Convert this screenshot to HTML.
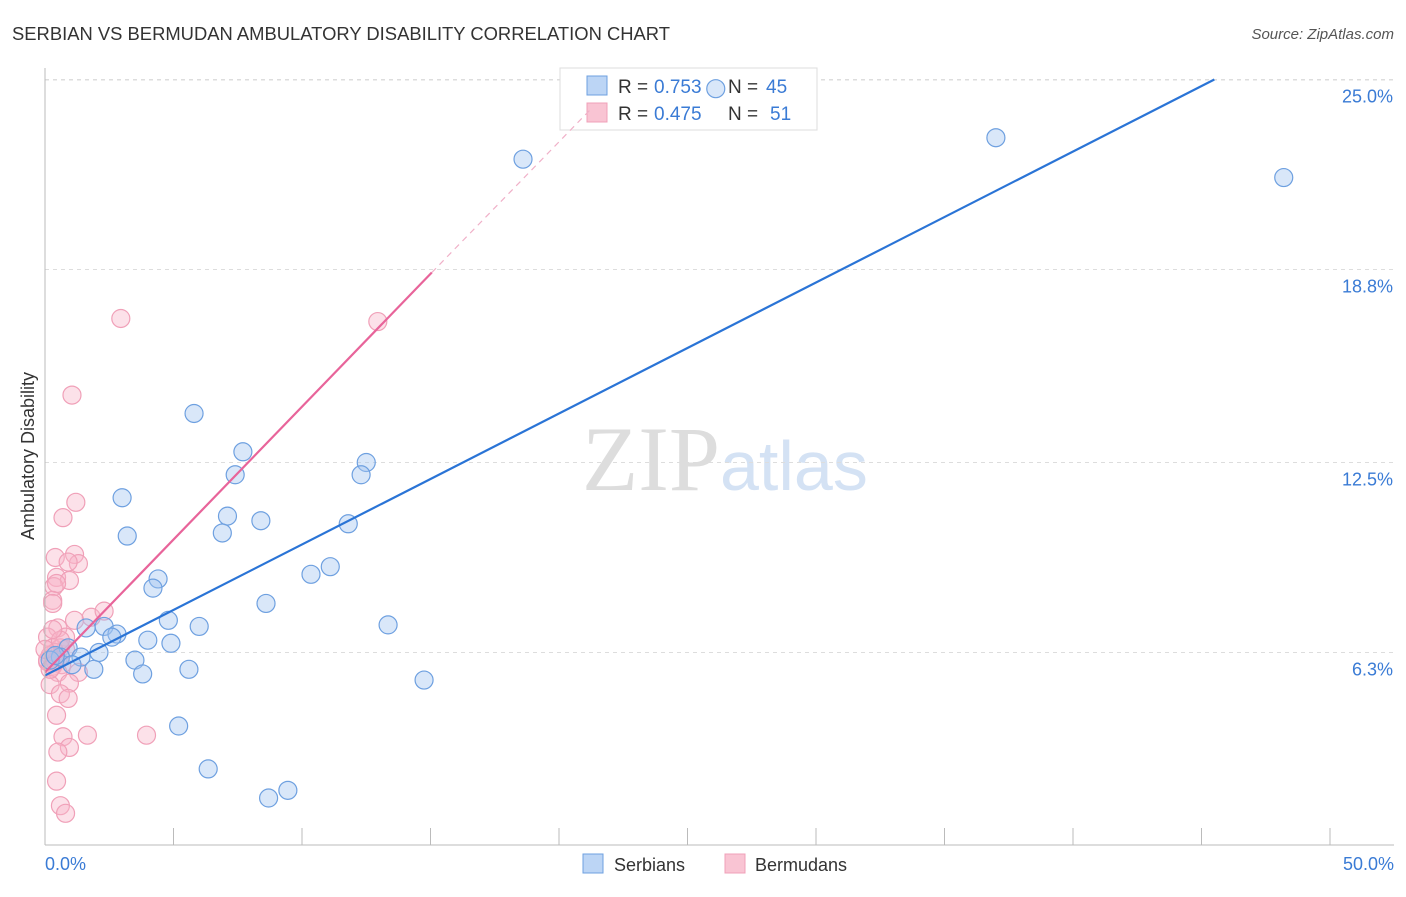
<!DOCTYPE html>
<html><head><meta charset="utf-8"><style>
body{margin:0;background:#fff;font-family:"Liberation Sans",sans-serif}
</style></head><body>
<svg id="c" width="1406" height="892" xmlns="http://www.w3.org/2000/svg" style="font-family:'Liberation Sans',sans-serif">
<text x="12" y="40" font-size="18" fill="#333" textLength="658" lengthAdjust="spacingAndGlyphs">SERBIAN VS BERMUDAN AMBULATORY DISABILITY CORRELATION CHART</text>
<text x="1394" y="39" font-size="15" fill="#555" text-anchor="end" font-style="italic">Source: ZipAtlas.com</text>
<text x="720" y="490" font-size="92" fill="#ddd" text-anchor="end" font-family="Liberation Serif">ZIP</text>
<text x="720" y="490" font-size="70" fill="#d4e2f4">atlas</text>
<text x="34" y="456" font-size="18" fill="#333" text-anchor="middle" transform="rotate(-90 34 456)">Ambulatory Disability</text>
<g id="grid"></g>
<g>
<rect x="560" y="68" width="257" height="62" fill="#fff" stroke="#ddd"/>
<rect x="587" y="76" width="20" height="19" fill="#bcd5f5" stroke="#6ea0e0"/>
<rect x="587" y="103" width="20" height="19" fill="#f9c4d3" stroke="#f0a0b8"/>
<text x="618" y="93" font-size="19" fill="#333">R =</text>
<text x="654" y="93" font-size="19" fill="#3a7bd5">0.753</text>
<text x="728" y="93" font-size="19" fill="#333">N =</text>
<text x="766" y="93" font-size="19" fill="#3a7bd5">45</text>
<text x="618" y="120" font-size="19" fill="#333">R =</text>
<text x="654" y="120" font-size="19" fill="#3a7bd5">0.475</text>
<text x="728" y="120" font-size="19" fill="#333">N =</text>
<text x="770" y="120" font-size="19" fill="#3a7bd5">51</text>
</g>
<g id="pts"></g><g id="lines"></g>
<line x1="45" y1="68" x2="45" y2="845" stroke="#bbb"/>
<line x1="45" y1="845" x2="1394" y2="845" stroke="#bbb"/>
<text x="45" y="870" font-size="18" fill="#3a7bd5">0.0%</text>
<text x="1394" y="870" font-size="18" fill="#3a7bd5" text-anchor="end">50.0%</text>
<g><rect x="583" y="854" width="20" height="19" fill="#bcd5f5" stroke="#6ea0e0"/><text x="614" y="871" font-size="18" fill="#333">Serbians</text></g>
<g><rect x="725" y="854" width="20" height="19" fill="#f9c4d3" stroke="#f0a0b8"/><text x="755" y="871" font-size="18" fill="#333">Bermudans</text></g>
</svg>
<script>
const yTicks=[25.0,18.8,12.5,6.3];
const yTickLabels=["25.0%","18.8%","12.5%","6.3%"];
const xTickVals=[0,5,10,15,20,25,30,35,40,45,50];
const serbX=[18.6,26.1,37.0,48.2,5.8,7.7,7.4,12.5,12.3,3.0,7.1,8.4,11.8,3.2,6.9,11.1,10.35,4.4,4.2,8.6,4.8,6.0,13.35,1.6,2.3,2.8,2.6,4.0,4.9,0.9,2.1,1.4,0.6,3.5,1.05,1.9,3.8,5.6,14.75,5.2,6.35,8.7,9.45,0.2,0.4];
const serbY=[22.4,24.7,23.1,21.8,14.1,12.85,12.1,12.5,12.1,11.35,10.75,10.6,10.5,10.1,10.2,9.1,8.85,8.7,8.4,7.9,7.35,7.15,7.2,7.1,7.15,6.9,6.8,6.7,6.6,6.45,6.3,6.15,6.15,6.05,5.9,5.75,5.6,5.75,5.4,3.9,2.5,1.55,1.8,6.05,6.2];
const bermX=[2.95,12.95,1.05,1.2,0.7,0.4,1.15,1.3,0.9,0.45,0.95,0.35,0.45,0.3,0.3,1.8,2.3,1.15,0.5,0.8,0.1,0.3,0.6,0.8,0.4,0.2,0.5,0.1,0.65,0.3,1.3,0.5,0.95,0.2,0.6,0.9,0.45,0.7,1.65,3.95,0.95,0.5,0.45,0.6,0.8,0.1,0.4,0,0.2,0.6,0.3];
const bermY=[17.2,17.1,14.7,11.2,10.7,9.4,9.5,9.2,9.25,8.75,8.65,8.45,8.55,8.0,7.9,7.45,7.65,7.35,7.1,6.8,6.8,6.45,6.45,6.4,6.3,6.2,6.05,6.0,5.9,5.85,5.65,5.65,5.3,5.25,4.95,4.8,4.25,3.55,3.6,3.6,3.2,3.05,2.1,1.3,1.05,6.05,6.0,6.4,5.75,6.7,7.05];
const serbLine=[[0,5.55],[45.5,25.0]];
const bermLine=[[0,5.65],[15.05,18.7]];
const bermDash=[[15.05,18.7],[21.2,24.0]];
const X=v=>45+v*25.7, Y=v=>845.5-v*30.64;
const NS="http://www.w3.org/2000/svg";
function mk(t,a,p){const e=document.createElementNS(NS,t);for(const k in a)e.setAttribute(k,a[k]);p.appendChild(e);return e;}
const grid=document.getElementById('grid');
mk('line',{x1:45,y1:80,x2:1394,y2:80,stroke:'#ddd','stroke-dasharray':'4,4'},grid);
yTicks.forEach((t,i)=>{
 const l=mk('line',{x1:45,y1:Y(t),x2:1394,y2:Y(t),stroke:'#ddd','stroke-dasharray':'4,4'},grid);
 
 
 const tx=mk('text',{x:1393,y:Y(t)+23,'font-size':18,fill:'#3a7bd5','text-anchor':'end'},grid);
 tx.textContent=yTickLabels[i];
 
 
});
xTickVals.forEach(v=>{
 const l=mk('line',{x1:X(v),y1:828,x2:X(v),y2:845,stroke:'#bbb'},grid);
 
 
});
const pts=document.getElementById('pts');
bermX.forEach((v,i)=>{
 const c=mk('circle',{cx:X(v),cy:Y(bermY[i]),r:9,fill:'rgba(248,180,200,0.4)',stroke:'#f0a0b8','stroke-width':1.2},pts);
 
 
});
serbX.forEach((v,i)=>{
 const c=mk('circle',{cx:X(v),cy:Y(serbY[i]),r:9,fill:'rgba(160,196,240,0.4)',stroke:'#6ea0e0','stroke-width':1.2},pts);
 
 
});
const lines=document.getElementById('lines');
let l=mk('line',{x1:X(serbLine[0][0]),y1:Y(serbLine[0][1]),x2:X(serbLine[1][0]),y2:Y(serbLine[1][1]),stroke:'#2a74d6','stroke-width':2.2},lines);


l=mk('line',{x1:X(bermLine[0][0]),y1:Y(bermLine[0][1]),x2:X(bermLine[1][0]),y2:Y(bermLine[1][1]),stroke:'#e8649a','stroke-width':2.2},lines);


l=mk('line',{x1:X(bermDash[0][0]),y1:Y(bermDash[0][1]),x2:X(bermDash[1][0]),y2:Y(bermDash[1][1]),stroke:'#f0b0c8','stroke-width':1.2,'stroke-dasharray':'6,5'},lines);


</script>
</body></html>
